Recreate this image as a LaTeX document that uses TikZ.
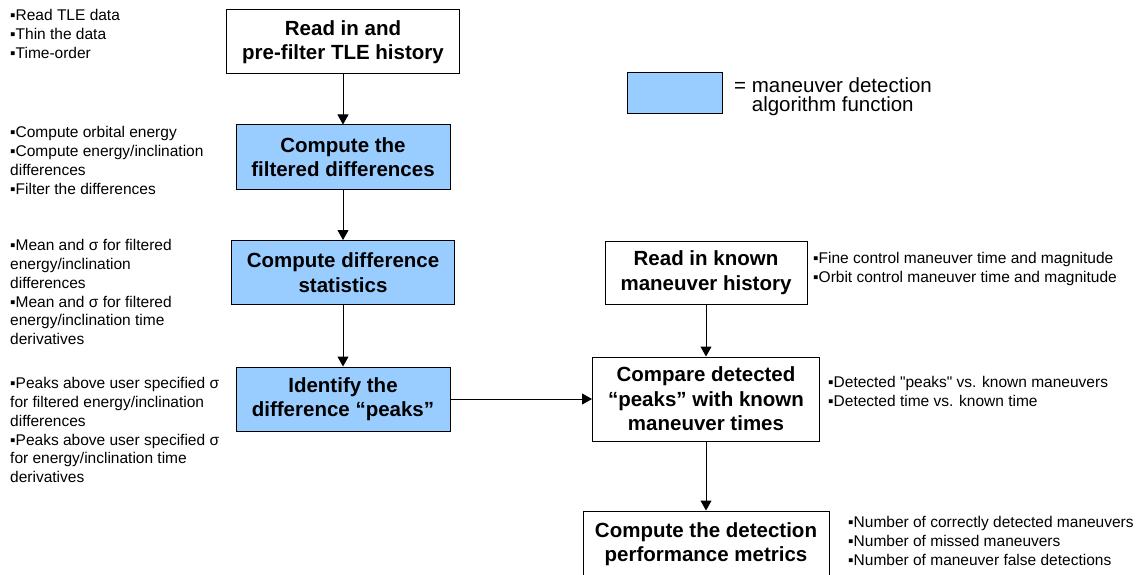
\documentclass[tikz,border=0pt]{standalone}
\usepackage{fontspec}
\setmainfont{Liberation Sans}
\usetikzlibrary{arrows.meta}
\definecolor{algblue}{HTML}{99CCFF}
\newcommand\flowboxfont{\bfseries\fontsize{20.5}{24.5}\selectfont}
\newcommand\flownotefont{\fontsize{15.5}{18.7}\selectfont}
\newcommand\flowkeyfont{\fontsize{20.5}{19}\selectfont}
\tikzset{
  stepbox/.style={draw=black, line width=1pt, align=center, font=\flowboxfont, inner sep=0pt},
  algbox/.style={stepbox, fill=algblue},
  notes/.style={align=left, anchor=north west, inner sep=0pt, font=\flownotefont},
  flow/.style={-{Triangle[width=11pt,length=10pt]}, line width=1pt},
}
\begin{document}
\begin{tikzpicture}[x=1pt, y=-1pt]
  \useasboundingbox (0,0) rectangle (1143,575);

  % main processing chain (left column)
  \node[stepbox, minimum width=233, minimum height=64] (read) at (343,42)
    {Read in and\\pre-filter TLE history};
  \node[algbox, minimum width=214, minimum height=64] (filt) at (343,157)
    {Compute the\\filtered differences};
  \node[algbox, minimum width=223, minimum height=64] (stats) at (343,272.5)
    {Compute difference\\statistics};
  \node[algbox, minimum width=214, minimum height=64] (peaks) at (343,399)
    {Identify the\\difference “peaks”};

  % comparison chain (right column)
  \node[stepbox, minimum width=202, minimum height=63] (known) at (706,272.5)
    {Read in known\\maneuver history};
  \node[stepbox, minimum width=227, minimum height=84] (cmp) at (706,399)
    {Compare detected\\“peaks” with known\\maneuver times};
  \node[stepbox, minimum width=246, minimum height=66] (metrics) at (706,544)
    {Compute the detection\\performance metrics};

  % legend
  \node[algbox, minimum width=95, minimum height=41] (key) at (674.5,93.5) {};
  \node[align=left, anchor=north west, inner sep=0pt, font=\flowkeyfont] (keytext) at (734,77)
    {= maneuver detection\\\phantom{= }algorithm function};

  % connectors
  \draw[flow] (read.south) -- (filt.north);
  \draw[flow] (filt.south) -- (stats.north);
  \draw[flow] (stats.south) -- (peaks.north);
  \draw[flow] (peaks.east) -- (cmp.west);
  \draw[flow] (known.south) -- (cmp.north);
  \draw[flow] (cmp.south) -- (metrics.north);

  % notes beside each step
  \node[notes] (n1) at (10,9.5)
    {▪Read TLE data\\▪Thin the data\\▪Time-order};
  \node[notes] (n2) at (10,126.5)
    {▪Compute orbital energy\\▪Compute energy/inclination\\differences\\▪Filter the differences};
  \node[notes] (n3) at (10,239.5)
    {▪Mean and σ for filtered\\energy/inclination\\differences\\▪Mean and σ for filtered\\energy/inclination time\\derivatives};
  \node[notes] (n4) at (10,377.5)
    {▪Peaks above user specified σ\\for filtered energy/inclination\\differences\\▪Peaks above user specified σ\\for energy/inclination time\\derivatives};
  \node[notes] (n5) at (813,252.5)
    {▪Fine control maneuver time and magnitude\\▪Orbit control maneuver time and magnitude};
  \node[notes] (n6) at (828,376.5)
    {▪Detected \textquotedbl peaks\textquotedbl{} vs. known maneuvers\\▪Detected time vs. known time};
  \node[notes] (n7) at (848,516.5)
    {▪Number of correctly detected maneuvers\\▪Number of missed maneuvers\\▪Number of maneuver false detections};
\end{tikzpicture}
\end{document}
